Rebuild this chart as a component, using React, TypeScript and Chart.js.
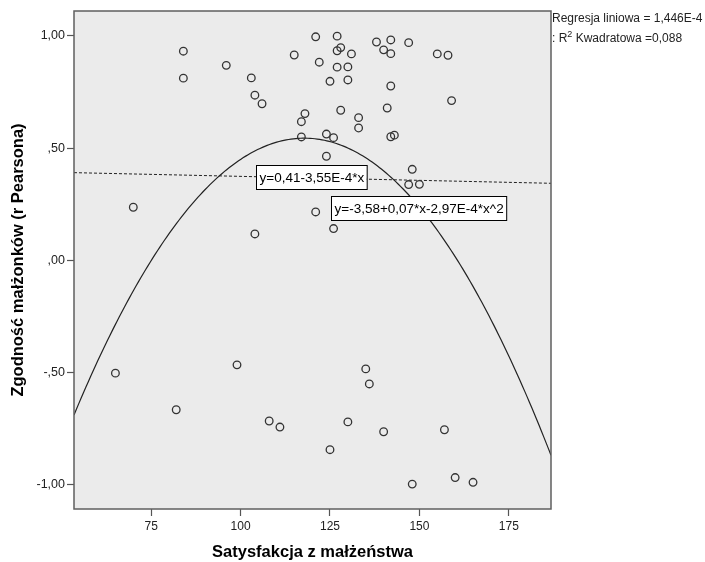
import React, { useEffect, useRef } from "react";
import { Chart, registerables } from "chart.js";

Chart.register(...registerables);

// Satysfakcja z małżeństwa (x) vs Zgodność małżonków (r Pearsona) (y)
const satisfaction: number[] = [
  84, 84, 96, 103, 104, 106, 115, 121, 127, 128, 127, 131, 122, 127, 130, 125, 130,
  138, 142, 140, 142, 147, 155, 158, 142, 159, 141, 128, 118, 117, 117, 124, 126,
  133, 133, 142, 143, 124, 148, 147, 150, 121, 126, 104, 70, 65, 82, 99, 108, 111,
  125, 130, 135, 136, 140, 157, 148, 160, 165,
];
const agreement: number[] = [
  0.932, 0.812, 0.869, 0.813, 0.736, 0.698, 0.915, 0.996, 0.999, 0.948, 0.934, 0.92,
  0.883, 0.861, 0.862, 0.798, 0.804, 0.973, 0.982, 0.938, 0.921, 0.97, 0.92, 0.914,
  0.777, 0.712, 0.679, 0.669, 0.654, 0.618, 0.55, 0.563, 0.547, 0.636, 0.59, 0.551,
  0.558, 0.464, 0.406, 0.338, 0.339, 0.216, 0.142, 0.118, 0.237, -0.502, -0.665,
  -0.465, -0.715, -0.742, -0.843, -0.719, -0.483, -0.55, -0.763, -0.754, -0.996,
  -0.967, -0.988,
];

// Fit coefficients as printed on the chart
const linearCoef: number[] = [0.41, -3.55e-4];
const quadCoef: number[] = [-3.58, 0.07, -2.97e-4];

const xRange: number[] = [53.42, 186.8];
const yRange: number[] = [-1.107, 1.111];
const xTicks: number[] = [75, 100, 125, 150, 175];
const xTickLabels: string[] = ["75", "100", "125", "150", "175"];
const yTicks: number[] = [-1, -0.5, 0, 0.5, 1];
const yTickLabels: string[] = ["-1,00", "-,50", ",00", ",50", "1,00"];

const xTitle = "Satysfakcja z małżeństwa";
const yTitle = "Zgodność małżonków (r Pearsona)";
const linearLabel = "y=0,41-3,55E-4*x";
const quadLabel = "y=-3,58+0,07*x-2,97E-4*x^2";
const legendLine1 = "Regresja liniowa = 1,446E-4";
const legendLine2a = ": R";
const legendLine2b = "2";
const legendLine2c = " Kwadratowa =0,088";

const FONT = "'Liberation Sans', Arial, sans-serif";

export default function App() {
  const ref = useRef<HTMLCanvasElement | null>(null);

  useEffect(() => {
    if (!ref.current) return;
    const [x0, x1] = xRange;
    const linearPts = [x0, x1].map((x) => ({ x, y: linearCoef[0] + linearCoef[1] * x }));
    const quadPts: { x: number; y: number }[] = [];
    const steps = 200;
    for (let i = 0; i <= steps; i++) {
      const x = x0 + ((x1 - x0) * i) / steps;
      quadPts.push({ x, y: quadCoef[0] + quadCoef[1] * x + quadCoef[2] * x * x });
    }
    const points = satisfaction.map((x, i) => ({ x, y: agreement[i] }));

    const framePlugin = {
      id: "frame",
      beforeDatasetsDraw(chart: any) {
        const { ctx, chartArea: a } = chart;
        ctx.save();
        ctx.fillStyle = "#ebebeb";
        ctx.fillRect(a.left, a.top, a.right - a.left, a.bottom - a.top);
        ctx.restore();
      },
      afterDraw(chart: any) {
        const { ctx, chartArea: a, scales } = chart;
        ctx.save();
        ctx.strokeStyle = "#5f5f5f";
        ctx.lineWidth = 1.5;
        ctx.strokeRect(a.left, a.top, a.right - a.left, a.bottom - a.top);

        // fit labels
        const box = (text: string, px: number, py: number, w: number) => {
          ctx.font = `13.5px ${FONT}`;
          ctx.fillStyle = "#ffffff";
          ctx.fillRect(px, py, w, 24);
          ctx.strokeStyle = "#000";
          ctx.lineWidth = 1;
          ctx.strokeRect(px + 0.5, py + 0.5, w, 24);
          ctx.fillStyle = "#000";
          ctx.textBaseline = "middle";
          ctx.textAlign = "left";
          ctx.fillText(text, px + 3.5, py + 13);
        };
        const sx = scales.x, sy = scales.y;
        ctx.font = `13.5px ${FONT}`;
        const w1 = ctx.measureText(linearLabel).width + 6;
        const w2 = ctx.measureText(quadLabel).width + 6;
        box(linearLabel, Math.round(sx.getPixelForValue(104.3)), Math.round(sy.getPixelForValue(0.425)), w1);
        box(quadLabel, Math.round(sx.getPixelForValue(125.3)), Math.round(sy.getPixelForValue(0.285)), w2);

        // axis titles
        ctx.fillStyle = "#000";
        ctx.font = `bold 16.5px ${FONT}`;
        ctx.textAlign = "center";
        ctx.textBaseline = "middle";
        ctx.fillText(xTitle, (a.left + a.right) / 2, 552);
        ctx.save();
        ctx.translate(18, (a.top + a.bottom) / 2);
        ctx.rotate(-Math.PI / 2);
        ctx.fillText(yTitle, 0, 0);
        ctx.restore();

        // R² legend
        ctx.font = `12px ${FONT}`;
        ctx.textAlign = "left";
        ctx.fillStyle = "#222";
        ctx.fillText(legendLine1, a.right + 1, 19);
        let lx = a.right + 1;
        ctx.fillText(legendLine2a, lx, 39);
        lx += ctx.measureText(legendLine2a).width;
        ctx.font = `9px ${FONT}`;
        ctx.fillText(legendLine2b, lx, 35);
        lx += ctx.measureText(legendLine2b).width;
        ctx.font = `12px ${FONT}`;
        ctx.fillText(legendLine2c, lx, 39);
        ctx.restore();
      },
    };

    const chart = new Chart(ref.current, {
      type: "scatter",
      data: {
        datasets: [
          {
            label: "points",
            data: points,
            pointRadius: 3.8,
            pointBorderWidth: 1.3,
            pointBorderColor: "#333",
            pointBackgroundColor: "rgba(0,0,0,0)",
            showLine: false,
            order: 1,
          },
          {
            label: "linear",
            data: linearPts,
            showLine: true,
            pointRadius: 0,
            borderColor: "#222",
            borderWidth: 1,
            borderDash: [3, 2],
            order: 2,
          },
          {
            label: "quad",
            data: quadPts,
            showLine: true,
            pointRadius: 0,
            borderColor: "#222",
            borderWidth: 1.2,
            tension: 0,
            order: 3,
          },
        ],
      },
      options: {
        animation: false,
        responsive: false,
        layout: { padding: { top: 11, right: 154, left: 0, bottom: 0 } },
        plugins: { legend: { display: false }, tooltip: { enabled: false } },
        scales: {
          x: {
            type: "linear",
            min: xRange[0],
            max: xRange[1],
            afterBuildTicks: (s: any) => {
              s.ticks = xTicks.map((v) => ({ value: v }));
            },
            afterFit: (s: any) => {
              s.height = 53;
            },
            grid: { drawOnChartArea: false, drawTicks: true, tickLength: 7, tickColor: "#555", tickWidth: 1.2 },
            border: { display: false },
            ticks: {
              padding: 3,
              color: "#222",
              font: { family: FONT, size: 12 },
              maxRotation: 0,
              callback: (v: any) => {
                const i = xTicks.indexOf(Number(v));
                return i >= 0 ? xTickLabels[i] : "";
              },
            },
          },
          y: {
            type: "linear",
            min: yRange[0],
            max: yRange[1],
            afterBuildTicks: (s: any) => {
              s.ticks = yTicks.map((v) => ({ value: v }));
            },
            afterFit: (s: any) => {
              s.width = 74;
            },
            grid: { drawOnChartArea: false, drawTicks: true, tickLength: 7, tickColor: "#555", tickWidth: 1.2 },
            border: { display: false },
            ticks: {
              padding: 2,
              color: "#222",
              font: { family: FONT, size: 12.5 },
              callback: (v: any) => {
                const i = yTicks.indexOf(Number(v));
                return i >= 0 ? yTickLabels[i] : "";
              },
            },
          },
        },
      },
      plugins: [framePlugin],
    });
    return () => chart.destroy();
  }, []);

  return (
    <div style={{ position: "fixed", left: 0, top: 0, width: 705, height: 562, background: "#fff" }}>
      <canvas ref={ref} width={705} height={562} style={{ width: 705, height: 562, display: "block" }} />
    </div>
  );
}
